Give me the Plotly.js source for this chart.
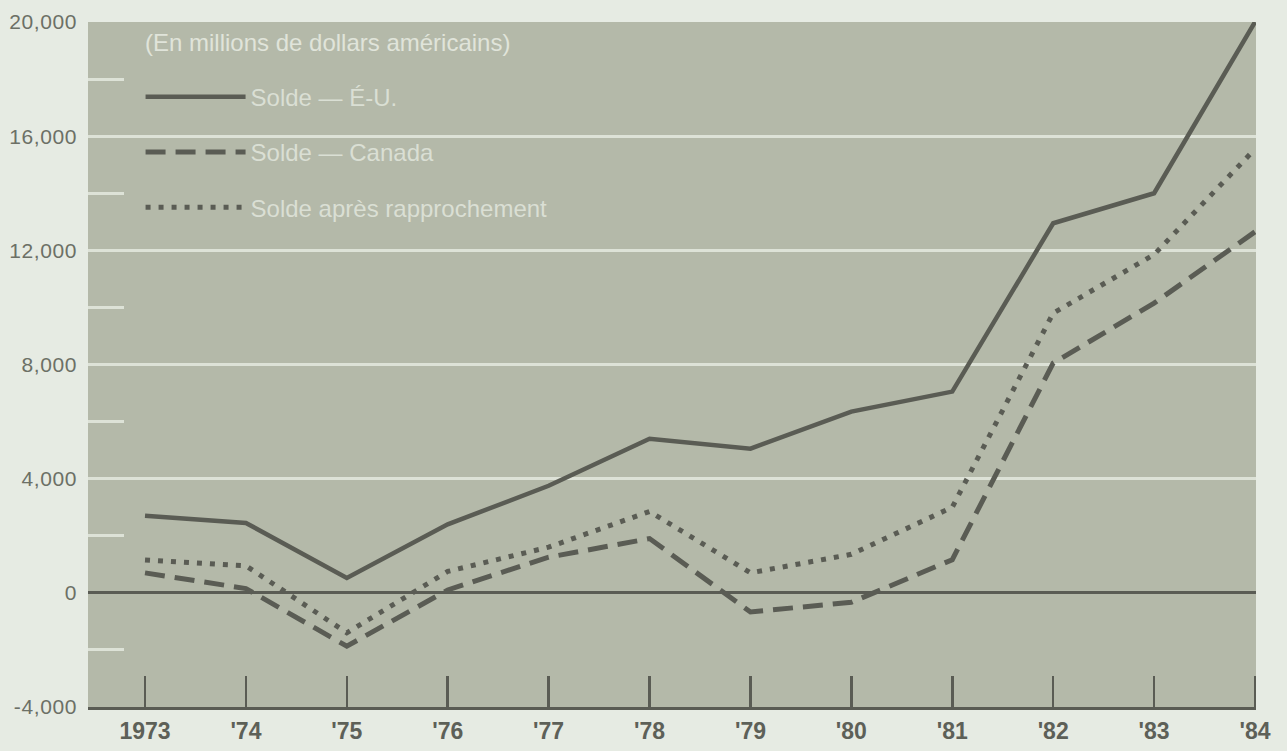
<!DOCTYPE html>
<html>
<head>
<meta charset="utf-8">
<script src="https://cdn.plot.ly/plotly-3.0.1.min.js"></script>
<style>
  html, body { margin: 0; padding: 0; background: #e6ebe3; }
  #chart { width: 1287px; height: 751px; }
  #chart .ytick text { letter-spacing: 0.6px; }
</style>
</head>
<body>
<div id="chart"></div>
<script>
// Years (x) and tick labels
const years = [1973, 1974, 1975, 1976, 1977, 1978, 1979, 1980, 1981, 1982, 1983, 1984];
const yearLabels = ["1973", "'74", "'75", "'76", "'77", "'78", "'79", "'80", "'81", "'82", "'83", "'84"];

// Series values (millions of US dollars)
const soldeEU = [2700, 2450, 520, 2400, 3750, 5400, 5050, 6350, 7050, 12950, 14000, 20000];
const soldeCanada = [700, 150, -1870, 100, 1250, 1900, -670, -330, 1160, 8050, 10150, 12650];
const soldeRapprochement = [1150, 950, -1400, 750, 1600, 2850, 700, 1350, 3000, 9800, 11850, 15550];

// Series names
const seriesNames = ["Solde \u2014 \u00C9-U.", "Solde \u2014 Canada", "Solde apr\u00E8s rapprochement"];
const unitNote = "(En millions de dollars am\u00E9ricains)";

// Y axis ticks
const yTickVals = [-4000, 0, 4000, 8000, 12000, 16000, 20000];
const yTickText = ["-4,000", "0", "4,000", "8,000", "12,000", "16,000", "20,000"];
const yMinorVals = [-2000, 2000, 6000, 10000, 14000, 18000];

const lineColor = '#5a5c54';
const lightText = '#dadfd4';

const traces = [
  {
    x: years, y: soldeEU, name: seriesNames[0], type: 'scatter', mode: 'lines',
    line: { color: lineColor, width: 4.5, dash: 'solid' }, legendgroup: 'a'
  },
  {
    x: years, y: soldeCanada, name: seriesNames[1], type: 'scatter', mode: 'lines',
    line: { color: lineColor, width: 5, dash: '20px,10px' }, legendgroup: 'b'
  },
  {
    x: years, y: soldeRapprochement, name: seriesNames[2], type: 'scatter', mode: 'lines',
    line: { color: lineColor, width: 5, dash: '5px,8px' }, legendgroup: 'c'
  }
];

const layout = {
  width: 1287, height: 751,
  margin: { l: 88, r: 31, t: 22, b: 44, pad: 0 },
  paper_bgcolor: '#e6ebe3',
  plot_bgcolor: '#b4b9a9',
  font: { family: 'Liberation Sans, Arial, sans-serif', color: '#6c7066' },
  showlegend: true,
  legend: {
    x: 0.045, y: 0.923, xanchor: 'left', yanchor: 'top',
    bgcolor: 'rgba(0,0,0,0)', borderwidth: 0,
    font: { size: 24, color: lightText, family: 'Liberation Sans, Arial, sans-serif' },
    traceorder: 'grouped', tracegroupgap: 21, itemwidth: 100
  },
  annotations: [
    {
      text: unitNote, xref: 'paper', yref: 'paper', x: 0.047, y: 0.97,
      xanchor: 'left', yanchor: 'middle', showarrow: false,
      font: { size: 24, color: '#e0e4da', family: 'Liberation Sans, Arial, sans-serif' }
    }
  ],
  xaxis: {
    type: 'linear',
    range: [1972.435, 1984.01],
    tickmode: 'array', tickvals: years, ticktext: yearLabels,
    ticks: 'inside', ticklen: 31, tickwidth: 2.5, tickcolor: lineColor,
    tickfont: { size: 23, color: '#5d6058', weight: 'bold', family: 'Liberation Sans, Arial, sans-serif' },
    ticklabelstandoff: 1,
    showgrid: false, zeroline: false,
    showline: true, linecolor: lineColor, linewidth: 3,
    fixedrange: true
  },
  yaxis: {
    range: [-4000, 20000],
    tickmode: 'array', tickvals: yTickVals, ticktext: yTickText,
    ticks: '',
    tickfont: { size: 21, color: '#6c7066' },
    ticklabelstandoff: 10,
    showgrid: true, gridcolor: '#dde2d7', gridwidth: 3,
    zeroline: true, zerolinecolor: lineColor, zerolinewidth: 3,
    showline: false,
    minor: { tickmode: 'array', tickvals: yMinorVals, ticks: 'inside', ticklen: 36, tickwidth: 3, tickcolor: '#dde2d7', showgrid: false },
    fixedrange: true
  }
};

Plotly.newPlot('chart', traces, layout, { displayModeBar: false, staticPlot: true });
</script>
</body>
</html>
